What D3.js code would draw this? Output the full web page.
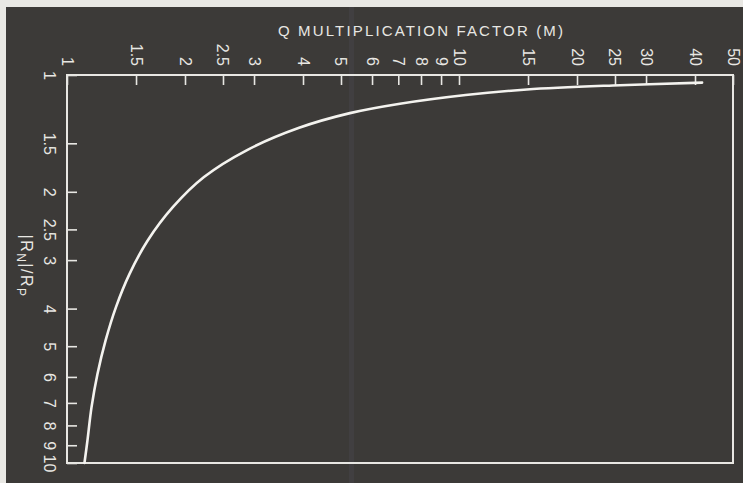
<!DOCTYPE html>
<html>
<head>
<meta charset="utf-8">
<script src="https://cdn.jsdelivr.net/npm/d3@7/dist/d3.min.js"></script>
<style>
  html, body { margin: 0; padding: 0; background: #e9e8e4; }
  svg { display: block; }
</style>
</head>
<body>
<svg id="chart" width="743" height="483"></svg>
<script>
// ---- data ----
const ratioTicks = [1, 1.5, 2, 2.5, 3, 4, 5, 6, 7, 8, 9, 10];
const mTicks = [1, 1.5, 2, 2.5, 3, 4, 5, 6, 7, 8, 9, 10, 15, 20, 25, 30, 40, 50];
// curve points: |RN|/RP ratio and the Q multiplication factor M
const curveRatio = [1.046, 1.064, 1.090, 1.126, 1.186, 1.254, 1.368, 1.561, 1.832, 2.188, 2.674, 3.26, 3.96, 4.84, 5.90, 7.18, 8.79, 10];
const curveM     = [41.7,  24.7,  14.9,  10.4,  7.07,  5.27,  3.91,  2.88,  2.236, 1.864, 1.605, 1.443, 1.334, 1.254, 1.196, 1.155, 1.127, 1.108];
const titleTop = "Q MULTIPLICATION FACTOR (M)";

// ---- layout ----
const svg = d3.select("#chart");
const ink = "#e8e7e3";
const bg = "#3c3a38";
const L = 67, T = 75, R = 733, B = 463;

svg.append("rect").attr("x", 6).attr("y", 7).attr("width", 737).attr("height", 476).attr("fill", bg);
// faint scanning streak seen in the photo
svg.append("rect").attr("x", 349).attr("y", 7).attr("width", 5).attr("height", 476)
   .attr("fill", "rgba(120,120,170,0.09)");

const x = d3.scaleLog().domain([1, 50]).range([L, R]);
const y = d3.scaleLog().domain([1, 10]).range([T, B]);

const fontFam = "'Liberation Sans', Arial, sans-serif";

// top axis
const gTop = svg.append("g").attr("transform", `translate(0,${T})`)
  .call(d3.axisTop(x).tickValues(mTicks).tickSize(-10).tickFormat(d => String(d)));
gTop.select(".domain").remove();
gTop.selectAll(".tick line").attr("stroke", ink).attr("stroke-width", 1.6);
gTop.selectAll(".tick text")
  .attr("x", null).attr("y", null).attr("dy", null)
  .attr("transform", "translate(-6,-9) rotate(90)")
  .attr("text-anchor", "end")
  .attr("fill", ink)
  .style("font-family", fontFam).style("font-size", "16px");

// left axis
const gLeft = svg.append("g").attr("transform", `translate(${L},0)`)
  .call(d3.axisLeft(y).tickValues(ratioTicks).tickSize(-10).tickFormat(d => String(d)));
gLeft.select(".domain").remove();
gLeft.selectAll(".tick line").attr("stroke", ink).attr("stroke-width", 1.6);
gLeft.selectAll(".tick text")
  .attr("x", null).attr("y", null).attr("dy", null)
  .attr("transform", "translate(-23,0) rotate(90)")
  .attr("text-anchor", "middle")
  .attr("fill", ink)
  .style("font-family", fontFam).style("font-size", "16px");

// frame
svg.append("rect").attr("x", L).attr("y", T).attr("width", R - L).attr("height", B - T)
  .attr("fill", "none").attr("stroke", ink).attr("stroke-width", 2);

// curve
const pts = curveRatio.map((r, i) => [curveM[i], r]);
const line = d3.line().x(d => x(d[0])).y(d => y(d[1])).curve(d3.curveCatmullRom.alpha(0.5));
svg.append("path").datum(pts).attr("d", line)
  .attr("fill", "none").attr("stroke", "#f4f3ef").attr("stroke-width", 2.6)
  .attr("stroke-linecap", "round");

// top title
svg.append("text").attr("x", 278).attr("y", 36)
  .attr("textLength", 285).attr("lengthAdjust", "spacing")
  .attr("fill", ink)
  .style("font-family", fontFam).style("font-size", "15px")
  .text(titleTop);

// left title |RN|/RP
const lt = svg.append("text")
  .attr("transform", "translate(21,266) rotate(90)")
  .attr("text-anchor", "middle")
  .attr("fill", ink)
  .style("font-family", fontFam).style("font-size", "16px")
  .style("letter-spacing", "1.5px");
lt.append("tspan").text("|R");
lt.append("tspan").attr("dy", 4).style("font-size", "12px").text("N");
lt.append("tspan").attr("dy", -4).text("|/R");
lt.append("tspan").attr("dy", 4).style("font-size", "12px").text("P");
</script>
</body>
</html>
